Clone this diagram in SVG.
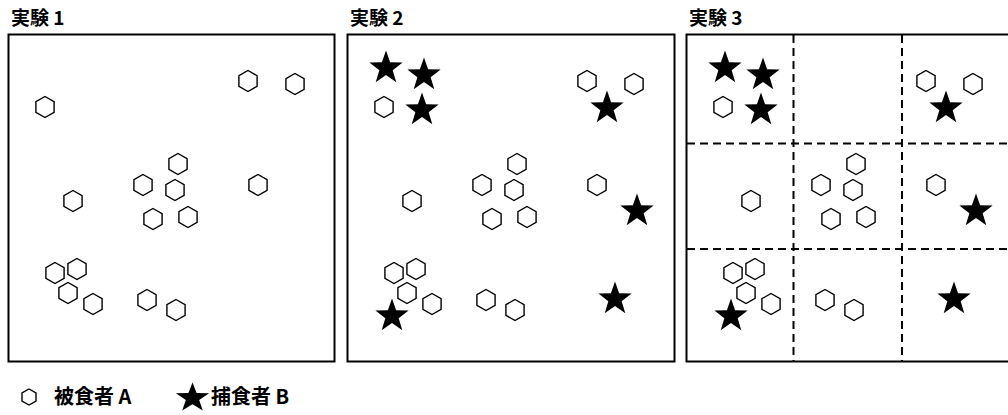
<svg xmlns="http://www.w3.org/2000/svg" xmlns:xlink="http://www.w3.org/1999/xlink" width="1008" height="415" viewBox="0 0 1008 415">
<style>
.title{font-family:"Noto Sans CJK JP","Noto Sans",sans-serif;font-weight:bold;font-size:19px;fill:#000}
.legend{font-family:"Noto Sans CJK JP","Noto Sans",sans-serif;font-weight:bold;font-size:20px;fill:#000}
.frame{fill:#fff;stroke:#000;stroke-width:2}
.dash{stroke:#000;stroke-width:2;stroke-dasharray:8 5;fill:none}
.hex{fill:#fff;stroke:#000;stroke-width:1.4}
.star{fill:#000;stroke:none}
</style>
<defs>
<polygon id="hex" class="hex" points="0,-10.5 9.09,-5.25 9.09,5.25 0,10.5 -9.09,5.25 -9.09,-5.25"/>
<path id="star" class="star" d="M0,-17.5 L4.11,-5.66 L16.64,-5.41 L6.66,2.16 L10.29,14.16 L0,7 L-10.29,14.16 L-6.66,2.16 L-16.64,-5.41 L-4.11,-5.66 Z"/>
<g id="preyset">
<use href="#hex" x="248" y="81"/>
<use href="#hex" x="295" y="84"/>
<use href="#hex" x="45" y="107"/>
<use href="#hex" x="178" y="164"/>
<use href="#hex" x="143" y="185"/>
<use href="#hex" x="175" y="190"/>
<use href="#hex" x="258" y="185"/>
<use href="#hex" x="73" y="201"/>
<use href="#hex" x="153" y="219"/>
<use href="#hex" x="188" y="217"/>
<use href="#hex" x="55" y="273"/>
<use href="#hex" x="77" y="269"/>
<use href="#hex" x="68" y="293"/>
<use href="#hex" x="93" y="304"/>
<use href="#hex" x="147" y="300"/>
<use href="#hex" x="176" y="310"/>
</g>
<g id="predset">
<use href="#star" x="47" y="68"/>
<use href="#star" x="85" y="75"/>
<use href="#star" x="83" y="110"/>
<use href="#star" x="268" y="108"/>
<use href="#star" x="298" y="211"/>
<use href="#star" x="276" y="299"/>
<use href="#star" x="53" y="316"/>
</g>
</defs>

<g id="experiment1">
<text class="title" x="11" y="25">実験 1</text>
<rect class="frame" x="8.5" y="34.5" width="326" height="327"/>
<use href="#preyset"/>
</g>

<g id="experiment2">
<text class="title" x="350" y="25">実験 2</text>
<rect class="frame" x="347.5" y="34.5" width="327" height="327"/>
<use href="#preyset" x="339"/>
<use href="#predset" x="339"/>
</g>

<g id="experiment3">
<text class="title" x="689" y="25">実験 3</text>
<rect class="frame" x="686.5" y="34.5" width="327" height="327"/>
<g id="grid">
<line class="dash" x1="793.5" y1="35" x2="793.5" y2="361"/>
<line class="dash" x1="902" y1="35" x2="902" y2="361"/>
<line class="dash" x1="687" y1="143.5" x2="1010" y2="143.5"/>
<line class="dash" x1="687" y1="249" x2="1010" y2="249"/>
</g>
<use href="#preyset" x="678"/>
<use href="#predset" x="678"/>
</g>

<g id="legend">
<g id="legend-prey">
<polygon class="hex" points="29,389 36,393 36,401 29,405 22,401 22,393"/>
<text class="legend" x="54" y="404">被食者 A</text>
</g>
<g id="legend-predator">
<path class="star" transform="translate(192.5,398) scale(1,0.88)" d="M0,-17.5 L4.11,-5.66 L16.64,-5.41 L6.66,2.16 L10.29,14.16 L0,7 L-10.29,14.16 L-6.66,2.16 L-16.64,-5.41 L-4.11,-5.66 Z"/>
<text class="legend" x="211" y="404">捕食者 B</text>
</g>
</g>
</svg>
